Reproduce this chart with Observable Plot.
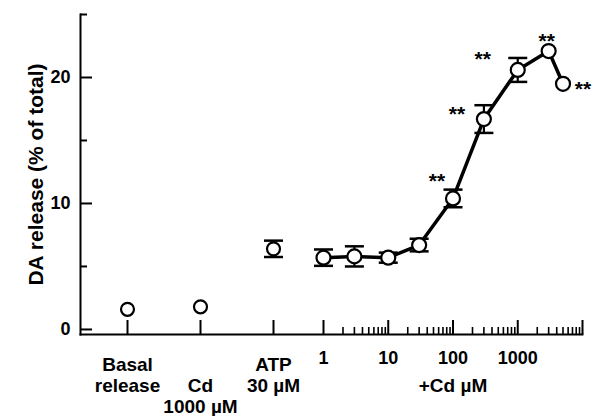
<!DOCTYPE html>
<html>
<head>
<meta charset="utf-8">
<script src="https://cdn.jsdelivr.net/npm/d3@7"></script>
<script src="https://cdn.jsdelivr.net/npm/@observablehq/plot@0.6"></script>
<style>
  html, body { margin: 0; padding: 0; background: #fff; }
  #chart { position: relative; width: 593px; height: 416px; overflow: hidden; }
  #chart svg { position: absolute; left: 0; top: 0; }
</style>
</head>
<body>
<div id="chart"></div>
<script>
// ---- data ----
const categories = ["Basal", "Cd", "ATP"];
const categoryLabels = ["Basal\nrelease", "\nCd\n1000 µM", "ATP\n30 µM"];
const categoryValues = [1.6, 1.8, 6.4];
const categoryErrors = [0, 0, 0.65];

const concentrations = [1, 3, 10, 30, 100, 300, 1000, 3000, 5000];   // µM Cd
const releaseValues  = [5.7, 5.8, 5.7, 6.7, 10.4, 16.7, 20.6, 22.1, 19.5];
const releaseErrors  = [0.65, 0.8, 0.4, 0.5, 0.7, 1.1, 0.95, 0, 0];
const significance   = ["", "", "", "", "**", "**", "**", "**", "**"];

const yTicks = [0, 10, 20];
const yMinorTicks = [5, 15, 25];
const xMajorTicks = [1, 10, 100, 1000, 10000];
const xTickLabels = ["1", "10", "100", "1000", ""];
const yLabel = "DA release (% of total)";
const xLabel = "+Cd µM";

// ---- layout / style ----
const W = 593, H = 416;
const yDomain = [-0.4, 25];
const mTop = 14, mBottom = 82, mRight = 11;
const font = "'Liberation Sans', Arial, Helvetica, sans-serif";
const starOffsets = [null, null, null, null, [-16, -17], [-27, -5], [-35, -11], [-2, -10], [20, 5]];

const capSymbol = {
  draw(context, size) {
    const w = Math.sqrt(size / Math.PI);
    context.moveTo(-w, 0);
    context.lineTo(w, 0);
  }
};

const catTable = categories.map((c, i) => ({cat: c, label: categoryLabels[i], value: categoryValues[i], err: categoryErrors[i]}));
const concTable = concentrations.map((c, i) => ({conc: c, value: releaseValues[i], err: releaseErrors[i], sig: significance[i]}));

const commonY = {domain: yDomain, label: null, axis: null};

// ---- plot 1: y axis + categorical part ----
const p1 = Plot.plot({
  width: W, height: H,
  marginLeft: 80, marginRight: mRight, marginTop: mTop, marginBottom: mBottom,
  style: {background: "white", fontFamily: font, overflow: "visible"},
  x: {type: "point", domain: categories, range: [127, 273], padding: 0, label: null, axis: null},
  y: commonY,
  marks: [
    Plot.frame({anchor: "left", strokeWidth: 2, stroke: "black"}),
    Plot.frame({anchor: "bottom", strokeWidth: 2, stroke: "black"}),
    Plot.axisY(yTicks, {tickSize: -12, tickPadding: 22, strokeWidth: 2, fontSize: 18, fontWeight: "bold", fill: "black", stroke: "black"}),
    Plot.axisY(yMinorTicks, {tickSize: -7, tickFormat: () => "", strokeWidth: 2, stroke: "black"}),
    Plot.axisX(categories, {tickSize: -14, tickFormat: () => "", strokeWidth: 2, stroke: "black"}),
    Plot.text(catTable, {x: "cat", text: "label", frameAnchor: "bottom", lineAnchor: "top", dy: 22, lineHeight: 1.1, fontSize: 19, fontWeight: "bold", fill: "black"}),
    Plot.text([yLabel], {frameAnchor: "left", textAnchor: "middle", rotate: -90, dx: -44, fontSize: 21, fontWeight: "bold", fill: "black"}),
    Plot.ruleX(catTable.filter(d => d.err > 0), {x: "cat", y1: d => d.value - d.err, y2: d => d.value + d.err, strokeWidth: 2.2, stroke: "black"}),
    Plot.dot(catTable.filter(d => d.err > 0), {x: "cat", y: d => d.value - d.err, symbol: capSymbol, r: 9.5, stroke: "black", strokeWidth: 2.5}),
    Plot.dot(catTable.filter(d => d.err > 0), {x: "cat", y: d => d.value + d.err, symbol: capSymbol, r: 9.5, stroke: "black", strokeWidth: 2.5}),
    Plot.dot(catTable, {x: "cat", y: "value", r: 6.5, fill: "white", stroke: "black", strokeWidth: 2.2})
  ]
});

// ---- plot 2: log concentration part ----
const starMarks = concTable.map((d, i) => starOffsets[i] ? Plot.text([d], {
  x: "conc", y: "value", text: "sig", dx: starOffsets[i][0], dy: starOffsets[i][1],
  fontSize: 21, fontWeight: "bold", fill: "black"
}) : null).filter(Boolean);

const minorTicks = [1, 10, 100, 1000].flatMap(d => d3.range(2, 10).map(k => k * d));

const p2 = Plot.plot({
  width: W, height: H,
  marginLeft: 323, marginRight: mRight, marginTop: mTop, marginBottom: mBottom,
  style: {background: "transparent", fontFamily: font, overflow: "visible"},
  x: {type: "log", domain: [1, 10000], label: null, axis: null},
  y: commonY,
  marks: [
    Plot.axisX(xMajorTicks, {tickSize: -14, tickPadding: 31, tickFormat: d => xTickLabels[xMajorTicks.indexOf(d)], strokeWidth: 2, stroke: "black", fontSize: 18, fontWeight: "bold", fill: "black"}),
    Plot.axisX(minorTicks, {tickSize: -7, tickFormat: () => "", strokeWidth: 1.6, stroke: "black"}),
    Plot.text([xLabel], {frameAnchor: "bottom", lineAnchor: "top", dy: 44, fontSize: 19, fontWeight: "bold", fill: "black"}),
    Plot.line(concTable, {x: "conc", y: "value", stroke: "black", strokeWidth: 3.5}),
    Plot.ruleX(concTable.filter(d => d.err > 0), {x: "conc", y1: d => d.value - d.err, y2: d => d.value + d.err, strokeWidth: 2.2, stroke: "black"}),
    Plot.dot(concTable.filter(d => d.err > 0), {x: "conc", y: d => d.value - d.err, symbol: capSymbol, r: 9.5, stroke: "black", strokeWidth: 2.5}),
    Plot.dot(concTable.filter(d => d.err > 0), {x: "conc", y: d => d.value + d.err, symbol: capSymbol, r: 9.5, stroke: "black", strokeWidth: 2.5}),
    Plot.dot(concTable, {x: "conc", y: "value", r: 7, fill: "white", stroke: "black", strokeWidth: 2.2}),
    ...starMarks
  ]
});

const chart = document.getElementById("chart");
chart.appendChild(p1);
chart.appendChild(p2);
</script>
</body>
</html>
